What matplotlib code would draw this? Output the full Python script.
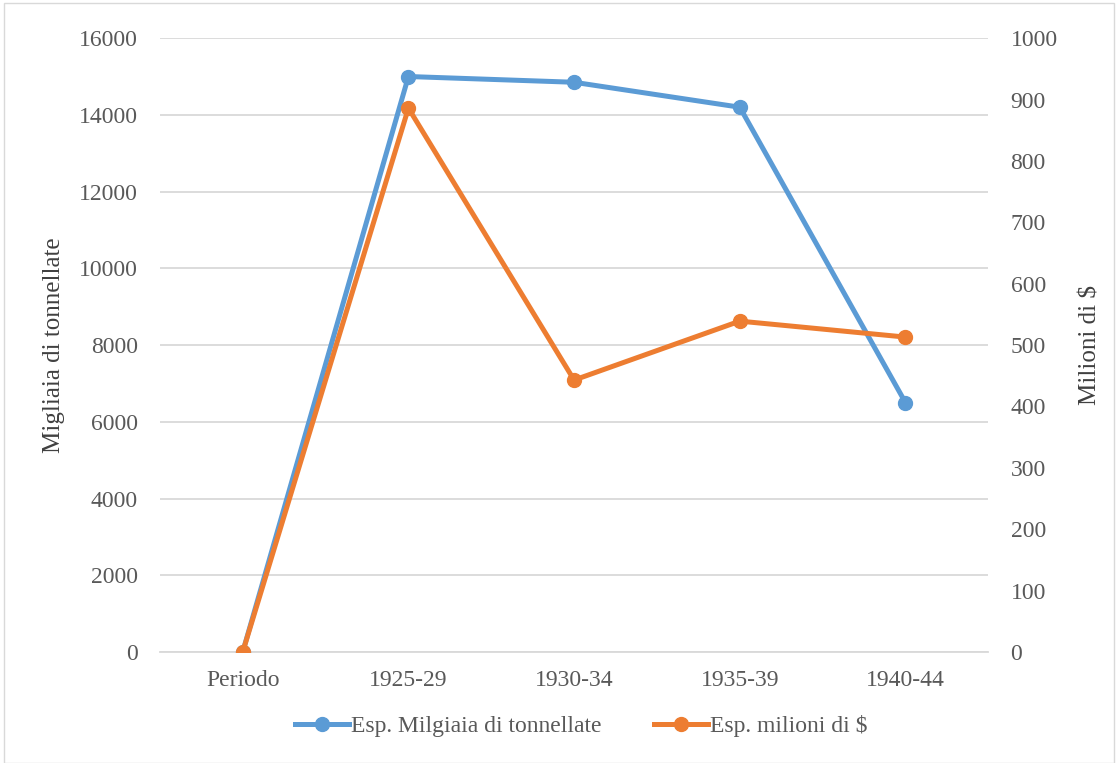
import matplotlib.pyplot as plt
from matplotlib.patches import Rectangle

periodi = ['Periodo', '1925-29', '1930-34', '1935-39', '1940-44']
migliaia_tonnellate = [0, 15000, 14850, 14200, 6500]
milioni_dollari = [0, 886, 443, 539, 513]

plt.rcParams['font.family'] = ['Liberation Serif', 'DejaVu Serif']

fig = plt.figure(figsize=(11.18, 7.63), dpi=100)
ax = fig.add_axes([0.143, 0.1455, 0.741, 0.8045])
ax2 = ax.twinx()

x = range(len(periodi))
l1, = ax.plot(x, migliaia_tonnellate, color='#5B9BD5', lw=3.6, marker='o', ms=10,
              label='Esp. Milgiaia di tonnellate', zorder=3)
l2, = ax2.plot(x, milioni_dollari, color='#ED7D31', lw=3.6, marker='o', ms=10,
               label='Esp. milioni di $', zorder=3)

ax.set_xlim(-0.5, 4.5)
ax.set_ylim(0, 16000)
ax.set_yticks(range(0, 16001, 2000))
ax2.set_ylim(0, 1000)
ax2.set_yticks(range(0, 1001, 100))
ax.set_xticks(list(x))
ax.set_xticklabels(periodi)

ax.grid(axis='y', color='#D9D9D9', lw=1.3)
ax.set_axisbelow(True)
for a in (ax, ax2):
    for s in a.spines.values():
        s.set_visible(False)
    a.tick_params(length=0, labelsize=17, labelcolor='#595959', pad=16)
ax.spines['bottom'].set_visible(True)
ax.spines['bottom'].set_color('#D9D9D9')
ax.spines['bottom'].set_linewidth(1.3)
ax.tick_params(axis='x', pad=13)

ax.set_ylabel('Migliaia di tonnellate', fontsize=18, color='#404040', labelpad=10)
ax2.set_ylabel('Milioni di $', fontsize=18, color='#404040', labelpad=16)

fig.legend(handles=[l1, l2], loc='center', bbox_to_anchor=(0.52, 0.048), ncol=2,
           frameon=False, fontsize=17, labelcolor='#595959', handlelength=2.3,
           handletextpad=0.1, columnspacing=2.2)

fig.patches.append(Rectangle((0.004, 0.0), 0.992, 0.996, transform=fig.transFigure,
                             fill=False, edgecolor='#D9D9D9', lw=1))

fig.savefig('out.png', dpi=100)
